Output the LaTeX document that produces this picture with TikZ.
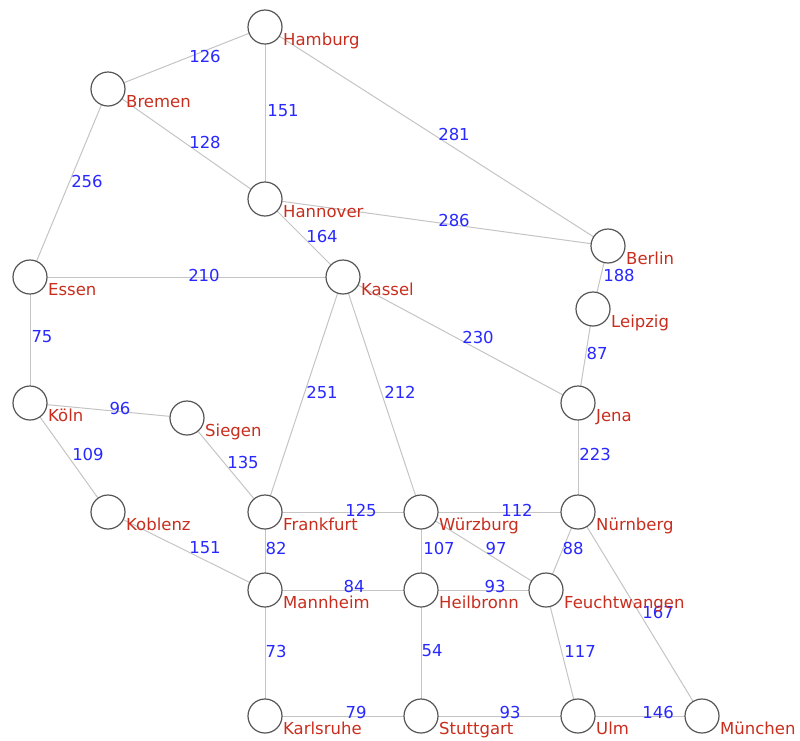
\documentclass[tikz,border=0pt]{standalone}
\usepackage{fontspec}
\setmainfont{DejaVu Sans}
\definecolor{edgegray}{RGB}{196,196,196}
\definecolor{ringgray}{RGB}{85,85,85}
\definecolor{cityred}{RGB}{200,45,30}
\definecolor{distblue}{RGB}{40,40,255}
\begin{document}
\begin{tikzpicture}[x=1pt,y=-1pt,
  city/.style={circle,draw=ringgray,line width=1.2pt,fill=white,minimum size=34pt,inner sep=0pt},
  road/.style={draw=edgegray,line width=1pt},
  dist/.style={text=distblue,font=\fontsize{16.5}{18}\selectfont,inner sep=0pt},
  cname/.style={text=cityred,font=\fontsize{16.5}{18}\selectfont,inner sep=0pt,anchor=base west}]
\useasboundingbox (0,0) rectangle (800,740);

% city positions
\foreach \n/\x/\y in {Hamburg/265/27, Bremen/108/89, Hannover/265/199, Essen/30/277,
  Kassel/343/277, Berlin/608/246, Leipzig/593/309, Jena/578/403, Koeln/30/403,
  Siegen/187/418, Koblenz/108/512, Frankfurt/265/512, Wuerzburg/421/512,
  Nuernberg/578/512, Mannheim/265/590, Heilbronn/421/590, Feuchtwangen/546/590,
  Karlsruhe/265/716, Stuttgart/421/716, Ulm/578/716, Muenchen/702/716}
  \coordinate (p-\n) at (\x,\y);

% roads
\begin{scope}[road]
\draw (p-Bremen) -- (p-Hamburg);
\draw (p-Hamburg) -- (p-Hannover);
\draw (p-Hamburg) -- (p-Berlin);
\draw (p-Bremen) -- (p-Hannover);
\draw (p-Bremen) -- (p-Essen);
\draw (p-Hannover) -- (p-Kassel);
\draw (p-Hannover) -- (p-Berlin);
\draw (p-Essen) -- (p-Kassel);
\draw (p-Essen) -- (p-Koeln);
\draw (p-Berlin) -- (p-Leipzig);
\draw (p-Leipzig) -- (p-Jena);
\draw (p-Kassel) -- (p-Jena);
\draw (p-Kassel) -- (p-Frankfurt);
\draw (p-Kassel) -- (p-Wuerzburg);
\draw (p-Koeln) -- (p-Siegen);
\draw (p-Koeln) -- (p-Koblenz);
\draw (p-Siegen) -- (p-Frankfurt);
\draw (p-Jena) -- (p-Nuernberg);
\draw (p-Frankfurt) -- (p-Wuerzburg);
\draw (p-Wuerzburg) -- (p-Nuernberg);
\draw (p-Koblenz) -- (p-Mannheim);
\draw (p-Frankfurt) -- (p-Mannheim);
\draw (p-Wuerzburg) -- (p-Heilbronn);
\draw (p-Wuerzburg) -- (p-Feuchtwangen);
\draw (p-Nuernberg) -- (p-Feuchtwangen);
\draw (p-Nuernberg) -- (p-Muenchen);
\draw (p-Mannheim) -- (p-Heilbronn);
\draw (p-Heilbronn) -- (p-Feuchtwangen);
\draw (p-Mannheim) -- (p-Karlsruhe);
\draw (p-Heilbronn) -- (p-Stuttgart);
\draw (p-Feuchtwangen) -- (p-Ulm);
\draw (p-Karlsruhe) -- (p-Stuttgart);
\draw (p-Stuttgart) -- (p-Ulm);
\draw (p-Ulm) -- (p-Muenchen);
\end{scope}

% cities
\foreach \n in {Hamburg, Bremen, Hannover, Essen, Kassel, Berlin, Leipzig, Jena, Koeln,
  Siegen, Koblenz, Frankfurt, Wuerzburg, Nuernberg, Mannheim, Heilbronn, Feuchtwangen,
  Karlsruhe, Stuttgart, Ulm, Muenchen}
  \node[city] (\n) at (p-\n) {};

% distances
\node[dist] (d1)  at (205,56)  {126};
\node[dist] (d2)  at (283,111) {151};
\node[dist] (d3)  at (205,142) {128};
\node[dist] (d4)  at (87,181)  {256};
\node[dist] (d5)  at (322,236) {164};
\node[dist] (d6)  at (204,275) {210};
\node[dist] (d7)  at (454,134) {281};
\node[dist] (d8)  at (454,220) {286};
\node[dist] (d9)  at (619,275) {188};
\node[dist] (d10) at (42,337)  {75};
\node[dist] (d11) at (120,408) {96};
\node[dist] (d12) at (88,454)  {109};
\node[dist] (d13) at (243,462) {135};
\node[dist] (d14) at (322,392) {251};
\node[dist] (d15) at (400,392) {212};
\node[dist] (d16) at (478,337) {230};
\node[dist] (d17) at (597,353) {87};
\node[dist] (d18) at (595,454) {223};
\node[dist] (d19) at (361,510) {125};
\node[dist] (d20) at (517,510) {112};
\node[dist] (d21) at (205,548) {151};
\node[dist] (d22) at (276,548) {82};
\node[dist] (d23) at (354,586) {84};
\node[dist] (d24) at (276,651) {73};
\node[dist] (d25) at (356,712) {79};
\node[dist] (d26) at (439,548) {107};
\node[dist] (d27) at (496,548) {97};
\node[dist] (d28) at (573,548) {88};
\node[dist] (d29) at (495,586) {93};
\node[dist] (d30) at (658,612) {167};
\node[dist] (d31) at (432,651) {54};
\node[dist] (d32) at (580,651) {117};
\node[dist] (d33) at (510,712) {93};
\node[dist] (d34) at (658,712) {146};

% city names
\foreach \n/\t in {Hamburg/Hamburg, Bremen/Bremen, Hannover/Hannover, Essen/Essen,
  Kassel/Kassel, Berlin/Berlin, Leipzig/Leipzig, Jena/Jena, Koeln/Köln,
  Siegen/Siegen, Koblenz/Koblenz, Frankfurt/Frankfurt, Wuerzburg/Würzburg,
  Nuernberg/Nürnberg, Mannheim/Mannheim, Heilbronn/Heilbronn,
  Feuchtwangen/Feuchtwangen, Karlsruhe/Karlsruhe, Stuttgart/Stuttgart,
  Ulm/Ulm, Muenchen/München}
  \node[cname] (t-\n) at ([shift={(18,18)}]p-\n) {\t};
\end{tikzpicture}
\end{document}
